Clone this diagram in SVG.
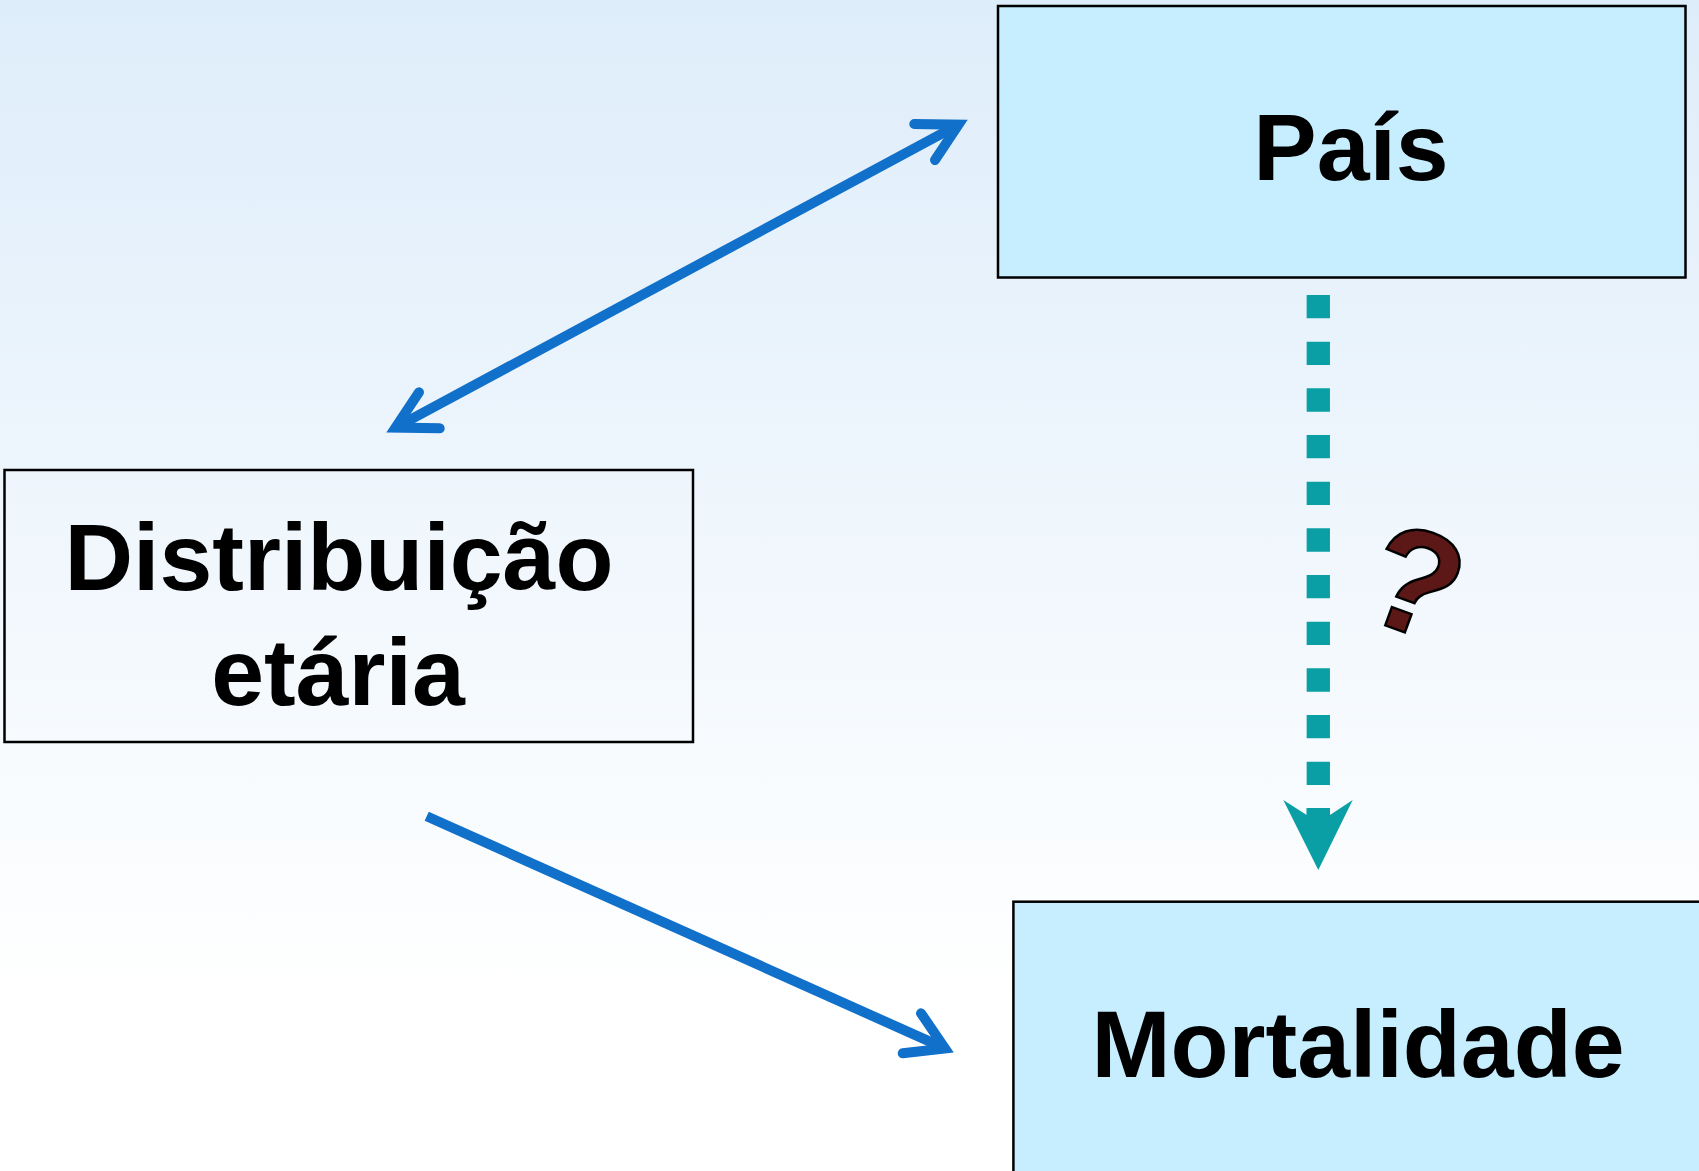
<svg xmlns="http://www.w3.org/2000/svg" width="1699" height="1171" viewBox="0 0 1699 1171">
  <defs>
    <linearGradient id="bg" x1="0" y1="0" x2="0" y2="1171" gradientUnits="userSpaceOnUse">
      <stop offset="0" stop-color="#DEEDFA"/>
      <stop offset="0.85" stop-color="#FFFFFF"/>
      <stop offset="1" stop-color="#FFFFFF"/>
    </linearGradient>
    <style>
      .box { stroke: #000000; stroke-width: 2.5; }
      .filled { fill: #C6EEFE; }
      .open { fill: none; }
      .label { font-family: "Liberation Sans", Arial, sans-serif; font-weight: bold; font-size: 95px; fill: #000000; text-anchor: middle; }
      .blue { stroke: #1170C9; stroke-width: 10; fill: none; }
      .shaft { stroke-linecap: butt; }
      .head { stroke-linecap: round; stroke-linejoin: miter; stroke-miterlimit: 10; }
      .teal { fill: #0A9EA5; }
    </style>
  </defs>
  <rect x="0" y="0" width="1699" height="1171" fill="url(#bg)"/>

  <g id="node-pais">
    <rect class="box filled" x="998" y="6" width="687.5" height="271.5"/>
    <text class="label" x="1351" y="180">País</text>
  </g>

  <g id="node-distribuicao">
    <rect class="box open" x="4.5" y="470" width="688.5" height="272" stroke-width="2"/>
    <text class="label" x="339" y="590">Distribuição</text>
    <text class="label" x="338" y="705">etária</text>
  </g>

  <g id="node-mortalidade">
    <rect class="box filled" x="1013.4" y="901.7" width="700" height="300"/>
    <text class="label" x="1358" y="1077">Mortalidade</text>
  </g>

  <g id="connectors">
    <!-- double arrow Distribuição <-> País -->
    <line class="blue shaft" x1="395.5" y1="427.6" x2="958.5" y2="124.7"/>
    <polyline class="blue head" points="914.3,124 958.5,124.7 935,160"/>
    <polyline class="blue head" points="439.7,428.3 395.5,427.6 419,392.3"/>

    <!-- arrow Distribuição -> Mortalidade -->
    <line class="blue shaft" x1="426.7" y1="816.3" x2="945" y2="1048.4"/>
    <polyline class="blue head" points="921,1013.3 945,1048.4 902.7,1053.3"/>

    <!-- dashed arrow País -> Mortalidade -->
    <line x1="1318.3" y1="295" x2="1318.3" y2="815" stroke="#0A9EA5" stroke-width="23.3" stroke-dasharray="23.3 23.37"/>
    <polygon class="teal" points="1283.3,800 1306.7,815 1306.7,808 1330,808 1330,815 1352.7,800 1318.3,870"/>
  </g>

  <g id="question-mark">
    <text transform="translate(1398,630) rotate(20)" x="0" y="0" font-family="Liberation Sans, Arial, sans-serif" font-weight="bold" font-size="148" text-anchor="middle" fill="#5C1717" stroke="#000000" stroke-width="2.5">?</text>
  </g>
</svg>
